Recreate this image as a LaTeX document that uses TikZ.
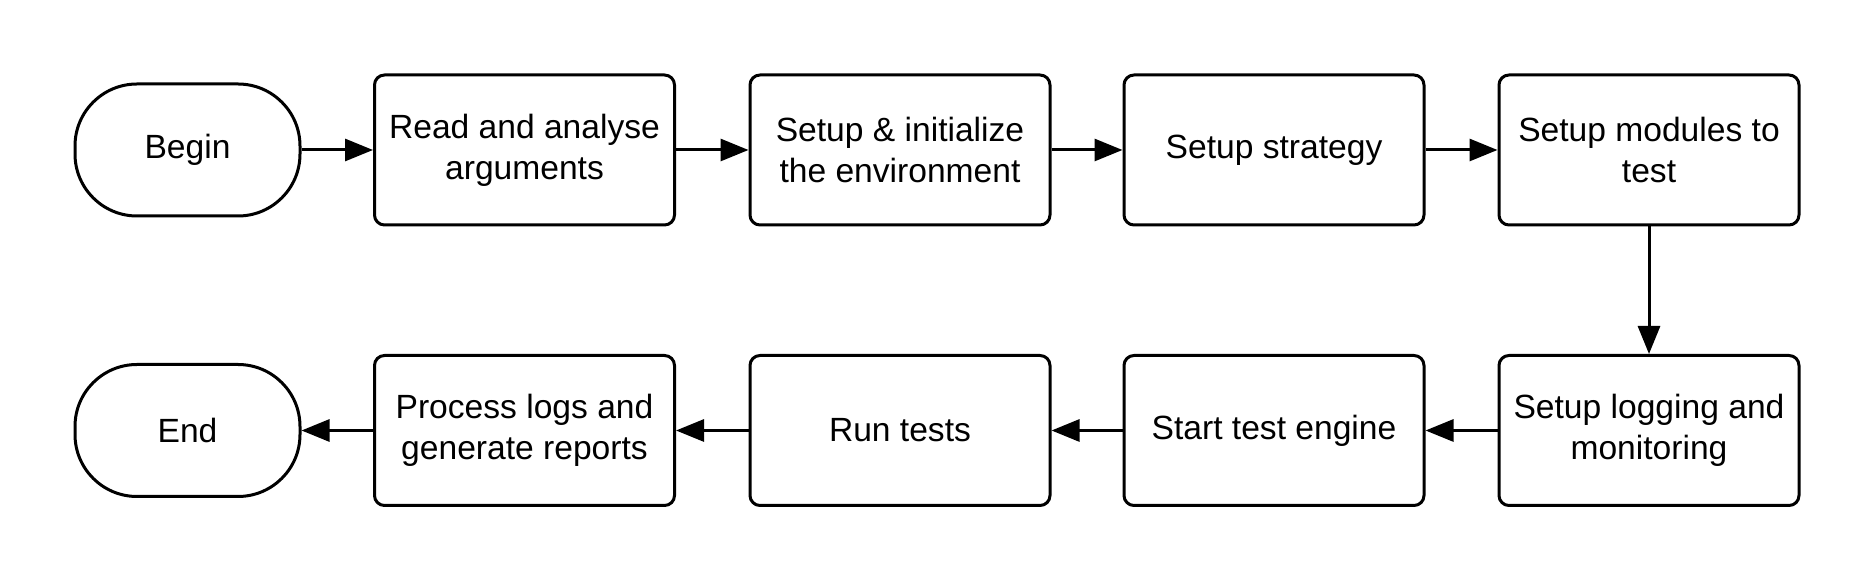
\documentclass[tikz,border=0pt]{standalone}
\usepackage{fontspec}
\setmainfont{Liberation Sans}
\usepackage{tikz}
\usetikzlibrary{arrows.meta,positioning}
\definecolor{flowLine}{RGB}{0,0,0}
\definecolor{flowText}{RGB}{0,0,0}

\begin{document}
\begin{tikzpicture}[x=0.5pt,y=-0.5pt,
  stepbox/.style={draw=flowLine, line width=1.5pt, rounded corners=5pt,
    minimum width=150pt, minimum height=75pt, align=center, text=flowText,
    font=\fontsize{16.8}{20.5}\selectfont},
  termbox/.style={stepbox, minimum width=112.5pt, minimum height=66pt, rounded corners=31pt},
  flow/.style={draw=flowLine, line width=1.5pt, -{Triangle[length=14pt,width=11pt]}}]
\useasboundingbox (0,0) rectangle (1875,581);
% top row
\node[termbox] (begin) at (187.5,150) {Begin};
\node[stepbox] (args) at (524.5,150) {Read and analyse\\arguments};
\node[stepbox] (env) at (900,150) {Setup \& initialize\\the environment};
\node[stepbox] (strategy) at (1274,150) {Setup strategy};
\node[stepbox] (modules) at (1649,150) {Setup modules to\\test};
% bottom row
\node[stepbox] (logging) at (1649,430.5) {Setup logging and\\monitoring};
\node[stepbox] (engine) at (1274,430.5) {Start test engine};
\node[stepbox] (tests) at (900,430.5) {Run tests};
\node[stepbox] (reports) at (524.5,430.5) {Process logs and\\generate reports};
\node[termbox] (end) at (187.5,430.5) {End};
\draw[flow] (begin) -- (args);
\draw[flow] (args) -- (env);
\draw[flow] (env) -- (strategy);
\draw[flow] (strategy) -- (modules);
\draw[flow] (modules) -- (logging);
\draw[flow] (logging) -- (engine);
\draw[flow] (engine) -- (tests);
\draw[flow] (tests) -- (reports);
\draw[flow] (reports) -- (end);
\end{tikzpicture}
\end{document}
